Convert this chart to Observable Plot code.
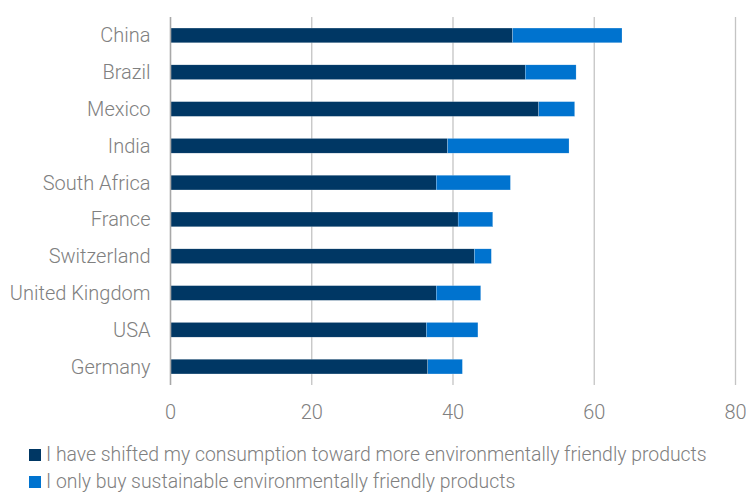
<!DOCTYPE html>
<html>
<head>
<meta charset="utf-8">
<script src="https://cdn.jsdelivr.net/npm/d3@7"></script>
<script src="https://cdn.jsdelivr.net/npm/@observablehq/plot@0.6"></script>
<style>
  html, body { margin: 0; padding: 0; background: #fff; }
  body { width: 746px; height: 492px; position: relative; overflow: hidden; font-family: Roboto, "Liberation Sans", sans-serif; }
  #legend { position: absolute; left: 29px; top: 441px; font-size: 19.4px; font-weight: 300; color: #808080; line-height: 27px; }
  #legend .item { display: flex; align-items: center; white-space: nowrap; }
  #legend .sw { width: 12px; height: 12px; margin-right: 5px; flex: none; }
</style>
</head>
<body>
<div id="chart"></div>
<div id="legend"></div>
<script>
const countries = ["China", "Brazil", "Mexico", "India", "South Africa", "France", "Switzerland", "United Kingdom", "USA", "Germany"];
const shifted = [48.5, 50.3, 52.2, 39.3, 37.7, 40.8, 43.1, 37.7, 36.3, 36.5];
const onlyBuy = [15.5, 7.2, 5.1, 17.2, 10.5, 4.9, 2.4, 6.3, 7.3, 4.9];
const seriesNames = [
  "I have shifted my consumption toward more environmentally friendly products",
  "I only buy sustainable environmentally friendly products"
];
const seriesColors = ["#003764", "#0073cf"];
const xTicks = [0, 20, 40, 60, 80];

const data = [];
countries.forEach((c, i) => {
  data.push({country: c, series: seriesNames[0], value: shifted[i]});
  data.push({country: c, series: seriesNames[1], value: onlyBuy[i]});
});

const chart = Plot.plot({
  width: 746,
  height: 430,
  marginLeft: 170,
  marginRight: 11,
  marginTop: 17,
  marginBottom: 45,
  style: {fontFamily: "Roboto, 'Liberation Sans', sans-serif", fontSize: "20px", fontWeight: 300, color: "#808080", background: "#fff"},
  x: {domain: [0, 80], ticks: xTicks, label: null},
  y: {domain: countries, paddingInner: 0.6, paddingOuter: 0.3, round: false, label: null},
  color: {domain: seriesNames, range: seriesColors},
  marks: [
    Plot.gridX(xTicks.slice(1), {stroke: "#c4c4c4", strokeOpacity: 1, strokeWidth: 1.3}),
    Plot.barX(data, Plot.stackX({x: "value", y: "country", fill: "series", order: seriesNames, stroke: "#ffffff", strokeWidth: 0.4, strokeOpacity: 0.5})),
    Plot.ruleX([0], {stroke: "#a8a8a8", strokeWidth: 1.6}),
    Plot.axisX({ticks: xTicks, tickSize: 0, tickPadding: 19, fill: "#808080", label: null}),
    Plot.axisY({tickSize: 0, tickPadding: 20, fill: "#808080", label: null})
  ]
});
document.getElementById("chart").appendChild(chart);

const legend = document.getElementById("legend");
seriesNames.forEach((name, i) => {
  const item = document.createElement("div");
  item.className = "item";
  const sw = document.createElement("span");
  sw.className = "sw";
  sw.style.background = seriesColors[i];
  const t = document.createElement("span");
  t.textContent = name;
  item.appendChild(sw);
  item.appendChild(t);
  legend.appendChild(item);
});
</script>
</body>
</html>
